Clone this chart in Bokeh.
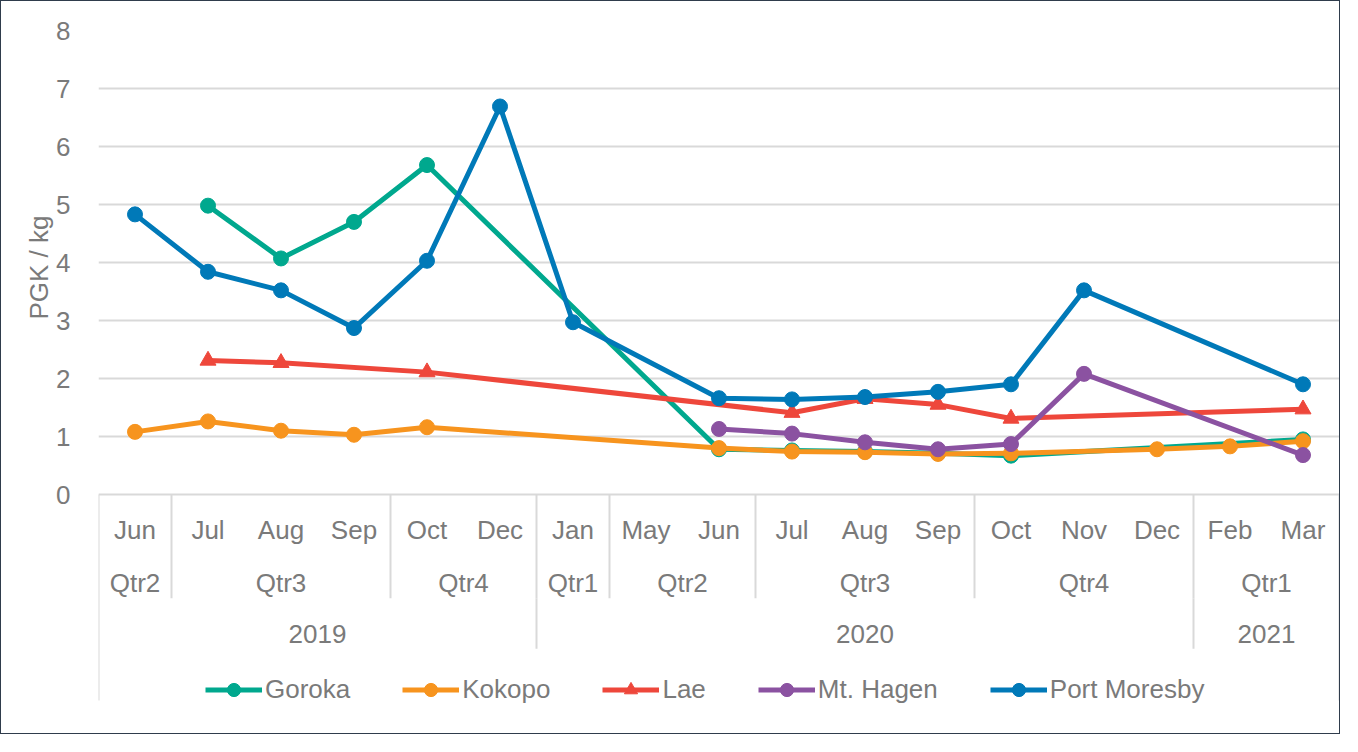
import numpy as np
from bokeh.plotting import figure
from bokeh.models import FactorRange, Range1d, FixedTicker, Legend, LegendItem, Title
from bokeh.core.properties import value
from bokeh.embed import file_html
from bokeh.resources import INLINE

# ---- data ----
years = ["2019"] * 6 + ["2020"] * 9 + ["2021"] * 2
quarters = ["Qtr2", "Qtr3", "Qtr3", "Qtr3", "Qtr4", "Qtr4",
            "Qtr1", "Qtr2", "Qtr2", "Qtr3", "Qtr3", "Qtr3", "Qtr4", "Qtr4", "Qtr4",
            "Qtr1", "Qtr1"]
months = ["Jun", "Jul", "Aug", "Sep", "Oct", "Dec",
          "Jan", "May", "Jun", "Jul", "Aug", "Sep", "Oct", "Nov", "Dec",
          "Feb", "Mar"]

goroka = [None, 4.98, 4.07, 4.70, 5.68, None, None, None, 0.78, 0.76, 0.74, 0.71, 0.67, None, None, None, 0.95]
kokopo = [1.08, 1.26, 1.10, 1.03, 1.16, None, None, None, 0.80, 0.74, 0.73, 0.70, 0.71, None, 0.78, 0.83, 0.92]
lae = [None, 2.31, 2.27, None, 2.11, None, None, None, None, 1.41, 1.65, 1.55, 1.31, None, None, None, 1.47]
mt_hagen = [None, None, None, None, None, None, None, None, 1.13, 1.05, 0.90, 0.78, 0.87, 2.08, None, None, 0.68]
port_moresby = [4.83, 3.84, 3.52, 2.87, 4.03, 6.69, 2.97, None, 1.66, 1.64, 1.68, 1.77, 1.90, 3.52, None, None, 1.90]

series_names = ["Goroka", "Kokopo", "Lae", "Mt. Hagen", "Port Moresby"]
series_values = [goroka, kokopo, lae, mt_hagen, port_moresby]
series_colors = ["#00A88E", "#F7941E", "#EE473B", "#8B52A1", "#0079B8"]
series_markers = ["circle", "circle", "triangle", "circle", "circle"]

y_ticks = [0, 1, 2, 3, 4, 5, 6, 7, 8]

# ---- styling ----
FONT = "Liberation Sans"
GRAY = "#7A7A7A"
GRID = "#D9D9D9"
FS = "26px"

factors = list(zip(years, quarters, months))
n = len(factors)

x_range = FactorRange(*factors, factor_padding=0, subgroup_padding=0,
                      group_padding=0, range_padding=0)
y_bottom = -3.81
y_range = Range1d(y_bottom, 8)

p = figure(width=1340, height=734, x_range=x_range, y_range=y_range,
           output_backend="svg", toolbar_location=None, x_axis_location=None,
           min_border_left=97, min_border_right=2, min_border_top=29, min_border_bottom=20,
           outline_line_color=None)
p.styles = {"border": "1px solid #2F3C4C"}

ticker = FixedTicker(ticks=y_ticks)
p.yaxis.ticker = ticker
p.yaxis.axis_line_color = None
p.yaxis.major_tick_line_color = None
p.yaxis.minor_tick_line_color = None
p.yaxis.major_label_text_font_size = FS
p.yaxis.major_label_text_font = FONT
p.yaxis.major_label_text_color = GRAY
p.yaxis.major_label_standoff = 22
p.ygrid.ticker = ticker
p.ygrid.grid_line_color = GRID
p.ygrid.grid_line_width = 2
p.xgrid.visible = False

p.add_layout(Title(text="PGK / kg", align="right", offset=185, text_font=FONT,
                   text_font_size=FS, text_font_style="normal", text_color=GRAY,
                   standoff=0), "left")

# ---- category table (Excel style multi-level axis) ----
month_y, quarter_y, year_y = -0.62, -1.52, -2.40
quarter_bottom, year_bottom, table_bottom = -1.79, -2.66, -3.55

q_bounds = [i for i in range(1, n) if (years[i], quarters[i]) != (years[i - 1], quarters[i - 1])]
y_bounds = [i for i in range(1, n) if years[i] != years[i - 1]]

p.segment(x0=q_bounds, y0=0, x1=q_bounds, y1=quarter_bottom, line_color=GRID, line_width=2)
p.segment(x0=y_bounds, y0=quarter_bottom, x1=y_bounds, y1=year_bottom, line_color=GRID, line_width=2)
p.segment(x0=[0, n], y0=0, x1=[0, n], y1=table_bottom, line_color=GRID, line_width=2)

q_groups = []
for yq in zip(years, quarters):
    if yq not in q_groups:
        q_groups.append(yq)
y_groups = []
for yy in years:
    if yy not in y_groups:
        y_groups.append(yy)

txt = dict(text_align="center", text_baseline="middle", text_font_size=FS,
           text_color=GRAY, text_font=value(FONT))
p.text(x=factors, y=month_y, text=months, **txt)
p.text(x=q_groups, y=quarter_y, text=[q for _, q in q_groups], **txt)
p.text(x=y_groups, y=year_y, text=y_groups, **txt)

# ---- series ----
items = []
for name, vals, color, marker in zip(series_names, series_values, series_colors, series_markers):
    xs = [f for f, v in zip(factors, vals) if v is not None]
    ys = [v for v in vals if v is not None]
    lr = p.line(xs, ys, line_color=color, line_width=5, line_join="round")
    sr = p.scatter(xs, ys, marker=marker, size=16 if marker == "triangle" else 15,
                   fill_color=color, line_color=color)
    items.append(LegendItem(label=name, renderers=[lr, sr]))

legend = Legend(items=items, orientation="horizontal", location=(107, 9),
                border_line_color=None, background_fill_alpha=0,
                label_text_font_size=FS, label_text_font=FONT, label_text_color=GRAY,
                glyph_width=57, glyph_height=33, label_standoff=3, spacing=52,
                padding=0, margin=0)
p.add_layout(legend)

open("out.html", "w").write(file_html(p, INLINE))
